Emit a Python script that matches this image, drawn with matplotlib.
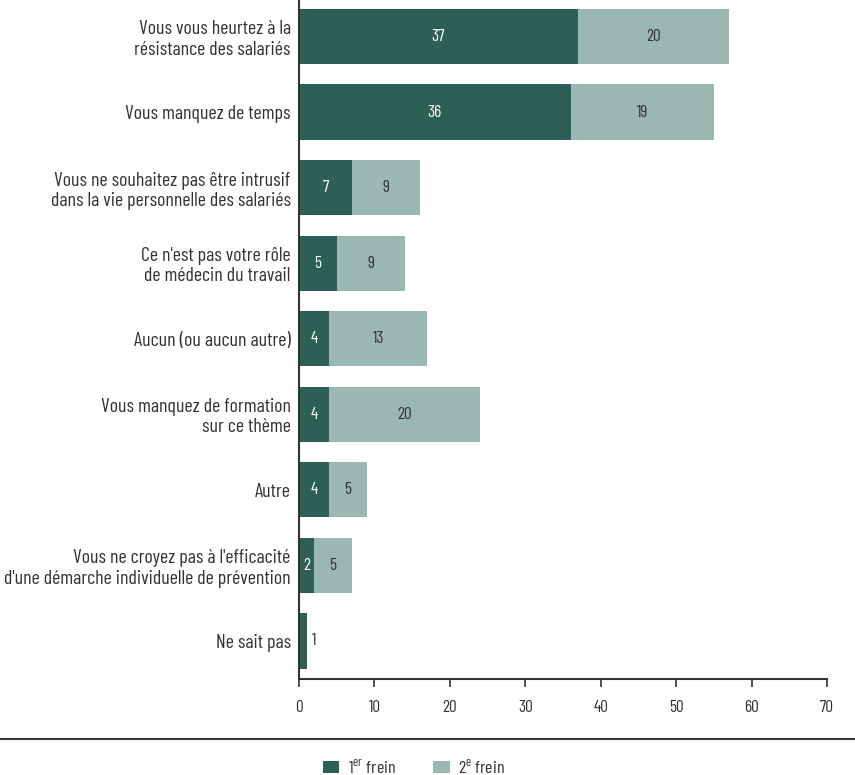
import matplotlib
matplotlib.use("Agg")
import matplotlib.pyplot as plt
from matplotlib.patches import Patch
from matplotlib.lines import Line2D

plt.rcParams['font.family'] = ['Barlow Condensed', 'Barlow Semi Condensed', 'DejaVu Sans']
plt.rcParams['mathtext.fontset'] = 'custom'
plt.rcParams['mathtext.rm'] = 'Barlow Condensed'

categories = [
    "Vous vous heurtez à la\nrésistance des salariés",
    "Vous manquez de temps",
    "Vous ne souhaitez pas être intrusif\ndans la vie personnelle des salariés",
    "Ce n'est pas votre rôle\nde médecin du travail",
    "Aucun (ou aucun autre)",
    "Vous manquez de formation\nsur ce thème",
    "Autre",
    "Vous ne croyez pas à l'efficacité\nd'une démarche individuelle de prévention",
    "Ne sait pas",
]
frein1 = [37, 36, 7, 5, 4, 4, 4, 2, 1]
frein2 = [20, 19, 9, 9, 13, 20, 5, 5, 0]
xticks = [0, 10, 20, 30, 40, 50, 60, 70]

dark = "#2d5f57"
light = "#9bb7b1"
txt = "#333333"

fig = plt.figure(figsize=(8.55, 7.75), dpi=100)
ax = fig.add_axes([299/855, 1 - 679/775, (827-299)/855, 679/775 - 0.0])

y = list(range(len(categories)))
h = 0.73
ax.barh(y, frein1, height=h, color=dark)
ax.barh(y, frein2, left=frein1, height=h, color=light)

for i in y:
    a, b = frein1[i], frein2[i]
    if a > 0:
        if b == 0:
            ax.text(a + 0.7, i, str(a), ha='left', va='center', fontsize=12.5, color=txt)
        else:
            ax.text(a / 2, i, str(a), ha='center', va='center', fontsize=12.5, color='white')
    if b > 0:
        ax.text(a + b / 2, i, str(b), ha='center', va='center', fontsize=12.5, color=txt)

ax.set_ylim(8.503, -0.483)
ax.set_xlim(0, 70)
ax.set_yticks(y)
ax.set_yticklabels(categories, fontsize=14.3, color=txt, linespacing=1.15)
ax.tick_params(axis='y', length=0, pad=6)
ax.set_xticks(xticks)
ax.set_xticklabels([str(t) for t in xticks], fontsize=12.5, color=txt)
ax.tick_params(axis='x', length=6, width=1.2, color=txt, pad=9)
for s in ['top', 'right']:
    ax.spines[s].set_visible(False)
for s in ['left', 'bottom']:
    ax.spines[s].set_linewidth(1.5)
    ax.spines[s].set_color(txt)

fig.add_artist(Line2D([0, 1], [1 - 739/775, 1 - 739/775], transform=fig.transFigure,
                      color=txt, linewidth=1.5))

handles = [Patch(facecolor=dark), Patch(facecolor=light)]
labels = ["1$^{\\mathregular{er}}$ frein", "2$^{\\mathregular{e}}$ frein"]
fig.legend(handles, labels, loc='center', bbox_to_anchor=(0.484, 1 - 767/775), ncol=2,
           frameon=False, fontsize=13, handlelength=0.9, handleheight=0.6,
           columnspacing=2.1, handletextpad=0.45, labelcolor=txt)

fig.savefig("out.png", dpi=100)
